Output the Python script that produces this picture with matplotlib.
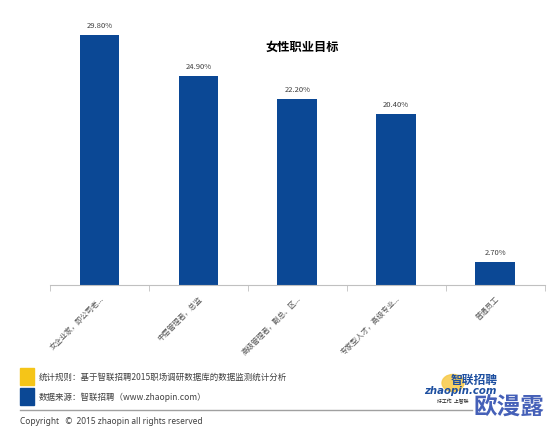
import matplotlib
matplotlib.use("Agg")
import matplotlib.pyplot as plt
from matplotlib.patches import Rectangle, Circle
from matplotlib.lines import Line2D

plt.rcParams['font.family'] = ['Noto Sans CJK SC', 'DejaVu Sans']

# data
categories = ['女企业家，即公司老...', '中层管理者，总监', '高级管理者，副总、区...',
              '专家型人才，高级专业...', '普通员工']
values = [29.8, 24.9, 22.2, 20.4, 2.7]
value_labels = ['29.80%', '24.90%', '22.20%', '20.40%', '2.70%']
title = '女性职业目标'
note_rule = '统计规则：基于智联招聘2015职场调研数据库的数据监测统计分析'
note_source = '数据来源：智联招聘（www.zhaopin.com）'
copyright_text = 'Copyright   ©  2015 zhaopin all rights reserved'

W, H = 552, 428
fig = plt.figure(figsize=(W / 100, H / 100), dpi=100)

bar_color = '#0b4895'
ax = fig.add_axes([50 / W, (H - 285) / H, (544.5 - 50) / W, 285 / H])
x = list(range(len(categories)))
ax.bar(x, values, width=0.4, color=bar_color)
ax.set_xlim(-0.5, len(categories) - 0.5)
ax.set_ylim(0, 285 / 8.39)

for xi, v, lab in zip(x, values, value_labels):
    ax.annotate(lab, (xi, v), xytext=(0, 3.5), textcoords='offset points',
                ha='center', va='bottom', fontsize=5.5, color='#404040')

for s in ['top', 'right', 'left']:
    ax.spines[s].set_visible(False)
ax.spines['bottom'].set_color('#c0c0c0')
ax.set_yticks([])
ax.set_xticks(x)
ax.set_xticklabels(categories, rotation=45, ha='right', va='top',
                   rotation_mode='anchor', fontsize=5.3, color='#555555')
ax.tick_params(axis='x', which='major', length=0, pad=7)
ax.set_xticks([i - 0.5 for i in range(len(categories) + 1)], minor=True)
ax.tick_params(axis='x', which='minor', length=4, color='#c0c0c0', direction='out')

fig.text(302 / W, 1 - 47 / H, title, ha='center', va='center',
         fontsize=8.8, fontweight='bold', color='black')

# footer notes
fig.patches.append(Rectangle((20 / W, 1 - 385 / H), 14 / W, 17 / H,
                             transform=fig.transFigure, color='#f5c518'))
fig.patches.append(Rectangle((20 / W, 1 - 405 / H), 14 / W, 17 / H,
                             transform=fig.transFigure, color='#0b4895'))
fig.text(39 / W, 1 - 377 / H, note_rule, ha='left', va='center',
         fontsize=6.1, color='#404040')
fig.text(39 / W, 1 - 397 / H, note_source, ha='left', va='center',
         fontsize=6.1, color='#404040')
fig.lines.append(Line2D([20 / W, 472 / W], [1 - 410 / H, 1 - 410 / H],
                        transform=fig.transFigure, color='#a0a0a0', lw=1))
fig.text(20 / W, 1 - 421.5 / H, copyright_text, ha='left', va='center',
         fontsize=6.0, color='#404040', family=['Noto Sans', 'DejaVu Sans'])

# logo
fig.patches.append(Circle((453 / W, 1 - 383 / H), 11 / W,
                          transform=fig.transFigure, color='#f7c948', alpha=0.85))
fig.text(474 / W, 1 - 380 / H, '智联招聘', ha='center', va='center',
         fontsize=8.5, fontweight='bold', style='italic', color='#1d4fa0')
fig.text(460 / W, 1 - 391 / H, 'zhaopin.com', ha='center', va='center',
         fontsize=7.3, fontweight='bold', style='italic', color='#1d4fa0',
         family=['DejaVu Sans'])
fig.text(453 / W, 1 - 402 / H, '好工作  上智联', ha='center', va='center',
         fontsize=3.5, color='#222222')
fig.text(509 / W, 1 - 407 / H, '欧漫露', ha='center', va='center',
         fontsize=17, fontweight='bold', color='#4560b8')

fig.savefig('out.png', dpi=100, facecolor='white')
